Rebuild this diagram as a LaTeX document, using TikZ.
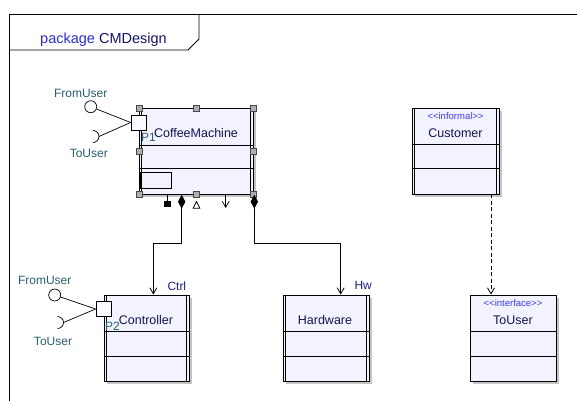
\documentclass[tikz,border=0pt]{standalone}
\usepackage{fontspec}
\setmainfont{Liberation Sans}
\usetikzlibrary{arrows.meta,shapes.geometric,shadows}
\definecolor{clsfill}{RGB}{243,242,255}
\definecolor{shadowgray}{RGB}{196,196,196}
\definecolor{namecol}{RGB}{20,20,80}
\definecolor{labcol}{RGB}{40,95,110}
\definecolor{rolecol}{RGB}{30,30,130}
\definecolor{stereocol}{RGB}{60,60,230}
\definecolor{pkgblue}{RGB}{45,45,205}
\definecolor{pkgnavy}{RGB}{20,20,100}
\definecolor{handlefill}{RGB}{175,175,175}
\definecolor{handledraw}{RGB}{70,70,70}
\tikzset{
  classbox/.style={draw, fill=clsfill, line width=0.9pt, inner sep=0pt, minimum height=86pt,
    general shadow={fill=shadowgray, shadow xshift=3pt, shadow yshift=-3pt}},
  clsname/.style={text=namecol, font=\fontsize{12.5}{14}\selectfont, inner sep=0pt, anchor=base},
  stereo/.style={text=stereocol, font=\fontsize{9.5}{11}\selectfont, inner sep=0pt, anchor=base},
  lab/.style={text=labcol, font=\fontsize{12}{14}\selectfont, inner sep=0pt, anchor=base},
  rolelab/.style={text=rolecol, font=\fontsize{12}{14}\selectfont, inner sep=0pt, anchor=base west},
  portbox/.style={draw, fill=clsfill!40!white, line width=0.8pt, minimum size=15pt, inner sep=0pt},
  lolly/.style={draw, circle, fill=clsfill!40!white, line width=0.7pt, minimum size=12pt, inner sep=0pt},
  handle/.style={draw=handledraw, fill=handlefill, line width=0.5pt, minimum size=6.5pt, inner sep=0pt},
  conn/.style={line width=0.9pt},
  openarrow/.style={-{Straight Barb[length=6pt,width=7pt,line width=0.8pt]}},
  thinline/.style={line width=0.7pt},
}
\newcommand{\compartments}[3]{%
  \draw[line width=0.9pt] ([yshift=-#2pt]#1.north west) -- ([yshift=-#2pt]#1.north east);
  \draw[line width=0.9pt] ([yshift=-#3pt]#1.north west) -- ([yshift=-#3pt]#1.north east);}
\newcommand{\activebars}[1]{%
  \draw[line width=0.9pt] ([xshift=3pt]#1.north west) -- ([xshift=3pt]#1.south west);
  \draw[line width=0.9pt] ([xshift=-3pt]#1.north east) -- ([xshift=-3pt]#1.south east);}
\begin{document}
\begin{tikzpicture}[x=1pt,y=-1pt]
\useasboundingbox (0,0) rectangle (577,401);
% package frame
\draw[line width=0.9pt] (577,14) -- (9,14) -- (9,401);
\draw[line width=0.9pt] (199,14) -- (199,39) -- (188,50) -- (9,50);
\node[anchor=base west, inner sep=0pt, font=\fontsize{14.5}{16}\selectfont] (title) at (40,43.3)
  {\textcolor{pkgblue}{package} \textcolor{pkgnavy}{CMDesign}};

% classes
\node[classbox, minimum width=114pt] (cm) at (196,151) {};
\compartments{cm}{38}{61}
\activebars{cm}
\draw[line width=0.8pt] (140.7,172) rectangle (171.7,188);
\node[clsname] (cmname) at (196,137) {CoffeeMachine};

\node[classbox, minimum width=87pt] (cust) at (455.8,151.3) {};
\compartments{cust}{37}{61}
\activebars{cust}
\node[stereo] (custst) at (455.5,119.5) {{<}{<}informal{>}{>}};
\node[clsname] (custname) at (455.5,137) {Customer};

\node[classbox, minimum width=85pt] (ctrl) at (146.5,338) {};
\compartments{ctrl}{37}{62}
\activebars{ctrl}
\node[clsname] (ctrlname) at (146,324.5) {Controller};

\node[classbox, minimum width=86pt] (hw) at (326.3,338) {};
\compartments{hw}{37}{62}
\activebars{hw}
\node[clsname] (hwname) at (325,324.5) {Hardware};

\node[classbox, minimum width=86pt] (tu) at (513.2,338) {};
\compartments{tu}{37}{62}
\node[stereo] (tust) at (513,306) {{<}{<}interface{>}{>}};
\node[clsname] (tuname) at (513,324.5) {ToUser};

% handles of the selected CoffeeMachine
\foreach \hx/\hy [count=\i] in {139/108,196/108,253/108,139/151,253/151,139/194,196/194,253/194}
  \node[handle] (h\i) at (\hx,\hy) {};

% ports
\node[portbox] (p1) at (138.5,122.5) {};
\node[lab, anchor=base west] (p1lab) at (141,141.5) {P1};
\node[portbox] (p2) at (103.5,309) {};
\node[lab, anchor=base west] (p2lab) at (105,330) {P2};

% provided / required interfaces of P1
\node[lolly] (fu1) at (90.7,106.7) {};
\node[lab] (fu1lab) at (80.7,97) {FromUser};
\draw[thinline] (fu1) -- (p1.west);
\coordinate (tu1) at (93,136.5);
\coordinate (tu1e) at (99,136.5);
\draw[thinline] (tu1) ++(0,-6) arc[start angle=-90, end angle=90, radius=6];
\draw[thinline] (tu1e) -- (p1.west);
\node[lab] (tu1lab) at (88.8,157.5) {ToUser};

% provided / required interfaces of P2
\node[lolly] (fu2) at (54.7,295) {};
\node[lab] (fu2lab) at (44.7,284.5) {FromUser};
\draw[thinline] (fu2) -- (p2.west);
\coordinate (tu2) at (57.5,322.5);
\coordinate (tu2e) at (63.5,322.5);
\draw[thinline] (tu2) ++(0,-6) arc[start angle=-90, end angle=90, radius=6];
\draw[thinline] (tu2e) -- (p2.west);
\node[lab] (tu2lab) at (53,345) {ToUser};

% decorations below CoffeeMachine
\coordinate (sqtop) at (167.5,194);
\node[fill=black, minimum size=6.5pt, inner sep=0pt] (sq) at (167.5,204) {};
\draw[thinline] (sqtop) -- (sq.north);
\node[diamond, fill=black, draw, line width=0.5pt, minimum width=7pt, minimum height=13pt, inner sep=0pt] (d1) at (181.7,201.7) {};
\node[diamond, fill=black, draw, line width=0.5pt, minimum width=7pt, minimum height=13pt, inner sep=0pt] (d2) at (254.3,201.7) {};
\draw[line width=0.7pt, fill=white] (196.5,201.5) -- (199.9,208.3) -- (193.1,208.3) -- cycle;
\coordinate (vtop) at (225.7,194);
\coordinate (vbot) at (225.7,208);
\draw[thinline, -{Straight Barb[length=6pt,width=7pt,line width=0.7pt]}] (vtop) -- (vbot);

% connectors
\coordinate (bend1) at (153.3,243.5);
\coordinate (bend2) at (340.7,243.5);
\draw[conn, openarrow] (d1.south) |- (bend1) -- (bend1 |- ctrl.north);
\draw[conn, openarrow] (d2.south) |- (bend2) -- (bend2 |- hw.north);
\node[rolelab] (ctrlrole) at (167.3,290) {Ctrl};
\node[rolelab] (hwrole) at (354.3,289.5) {Hw};
\coordinate (custbot) at (491,194.3);
\draw[conn, dash pattern=on 4pt off 2.5pt, openarrow] (custbot) -- (custbot |- tu.north);
\end{tikzpicture}
\end{document}
